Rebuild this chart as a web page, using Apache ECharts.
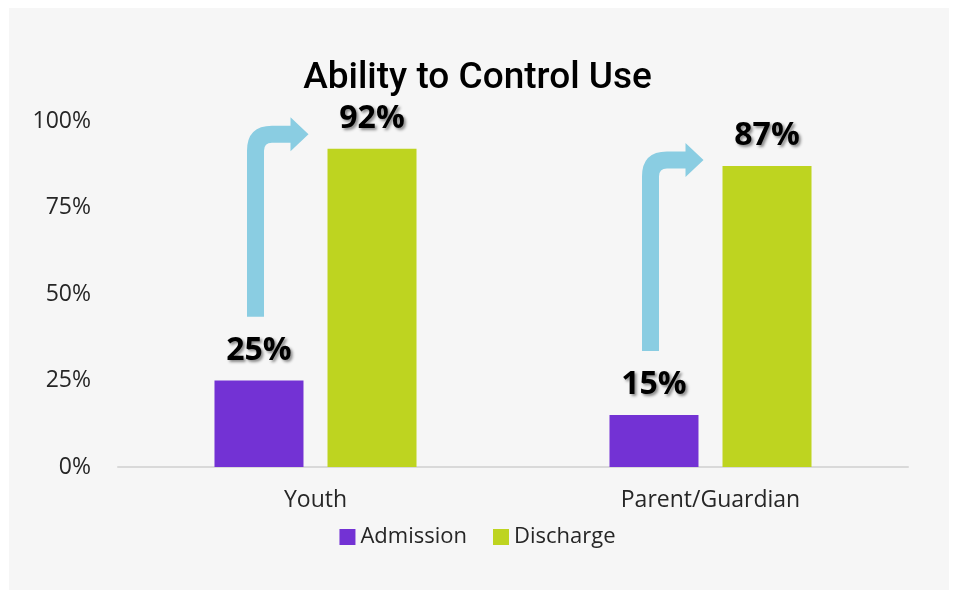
<!DOCTYPE html>
<html>
<head>
<meta charset="utf-8">
<script src="https://cdn.jsdelivr.net/npm/echarts@6/dist/echarts.min.js"></script>
<style>
  html, body { margin: 0; padding: 0; background: #ffffff; }
  #main { width: 955px; height: 598px; }
</style>
</head>
<body>
<div id="main"></div>
<script>
const categories = ['Youth', 'Parent/Guardian'];
const admission = [25, 15];
const discharge = [92, 87];
// bent arrow: bottom of shaft and height of the arrow head, in %
const arrowStart = [43.4, 33.5];
const arrowEnd = [96.2, 88.7];
const yTicks = [0, 25, 50, 75, 100];

const chartDom = document.getElementById('main');
const myChart = echarts.init(chartDom);

const labelStyle = {
  show: true,
  position: 'top',
  distance: 14,
  formatter: '{c}%',
  fontFamily: 'Open Sans',
  fontWeight: 'bold',
  fontSize: 32,
  color: '#000',
  textShadowColor: 'rgba(0,0,0,0.45)',
  textShadowBlur: 3,
  textShadowOffsetX: 2,
  textShadowOffsetY: 2
};

function renderArrow(params, api) {
  const idx = api.value(0);
  const base = api.coord([idx, arrowStart[idx]]);
  const top = api.coord([idx, arrowEnd[idx]]);
  const sx = base[0] - 60;  // shaft centre
  const yb = base[1];
  const yh = top[1];
  const tx = base[0] - 7;   // arrow tip
  const hx = tx - 18;       // head base
  const h = 8.5, R = 25, r = 8, hh = 17;
  const d = [
    'M', sx - h, yb,
    'L', sx - h, yh - h + R,
    'Q', sx - h, yh - h, sx - h + R, yh - h,
    'L', hx, yh - h,
    'L', hx, yh - hh,
    'L', tx, yh,
    'L', hx, yh + hh,
    'L', hx, yh + h,
    'L', sx + h + r, yh + h,
    'Q', sx + h, yh + h, sx + h, yh + h + r,
    'L', sx + h, yb,
    'Z'
  ].join(' ');
  return {
    type: 'path',
    shape: { pathData: d },
    style: { fill: '#8ACDE2' }
  };
}

const option = {
  animation: false,
  backgroundColor: 'transparent',
  graphic: [
    {
      type: 'rect',
      z: -10,
      silent: true,
      shape: { x: 9, y: 8, width: 940, height: 582 },
      style: { fill: '#f6f6f6' }
    }
  ],
  title: {
    text: 'Ability to Control Use',
    left: 'center',
    top: 55,
    textStyle: {
      fontFamily: 'Roboto',
      fontWeight: 500,
      fontSize: 37,
      color: '#000'
    }
  },
  legend: {
    data: ['Admission', 'Discharge'],
    left: 'center',
    top: 521,
    itemWidth: 16,
    itemHeight: 16,
    itemGap: 26,
    icon: 'rect',
    textStyle: {
      fontFamily: 'Open Sans',
      fontSize: 22,
      color: '#262626'
    }
  },
  grid: {
    left: 118,
    right: 47,
    top: 121,
    bottom: 131
  },
  xAxis: {
    type: 'category',
    data: categories,
    axisLine: { lineStyle: { color: '#d9d9d9', width: 2 } },
    axisTick: { show: false },
    axisLabel: {
      margin: 22,
      fontFamily: 'Open Sans',
      fontSize: 23,
      color: '#262626'
    }
  },
  yAxis: {
    type: 'value',
    min: yTicks[0],
    max: yTicks[yTicks.length - 1],
    interval: 25,
    splitLine: { show: false },
    axisLine: { show: false },
    axisTick: { show: false },
    axisLabel: {
      margin: 27,
      formatter: '{value}%',
      fontFamily: 'Open Sans',
      fontSize: 23,
      color: '#262626'
    }
  },
  series: [
    {
      name: 'Admission',
      type: 'bar',
      data: admission,
      barWidth: 89,
      barGap: '27%',
      itemStyle: { color: '#7332D4' },
      label: labelStyle
    },
    {
      name: 'Discharge',
      type: 'bar',
      data: discharge,
      barWidth: 89,
      itemStyle: { color: '#BED420' },
      label: labelStyle
    },
    {
      name: 'arrows',
      type: 'custom',
      renderItem: renderArrow,
      data: categories.map((c, i) => [i]),
      encode: { x: 0 },
      silent: true,
      z: 1
    }
  ]
};

myChart.setOption(option);
</script>
</body>
</html>
